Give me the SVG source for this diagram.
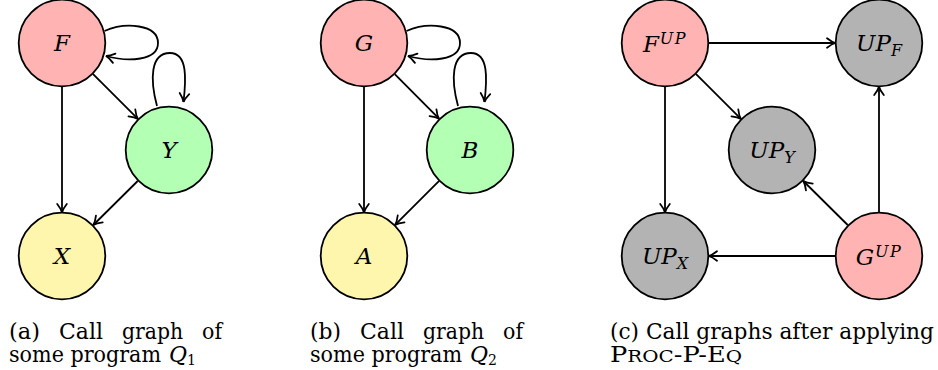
<svg xmlns="http://www.w3.org/2000/svg" width="938" height="370" viewBox="0 0 938 370">
<defs>
<marker id="arr" markerUnits="userSpaceOnUse" markerWidth="20" markerHeight="20" refX="0" refY="0" orient="auto" overflow="visible">
<path d="M -8.5,-4.8 C -5,-2 -2,-0.5 0,0 C -2,0.5 -5,2 -8.5,4.8" fill="none" stroke="#000" stroke-width="1.8" stroke-linecap="round"/>
</marker>
</defs>
<style>
.n{stroke:#000;stroke-width:1.8}
.red{fill:#FFB3B3}
.grn{fill:#B3FFB3}
.yel{fill:#FFF6AD}
.gry{fill:#B3B3B3}
text{font-family:'DejaVu Serif',serif;fill:#000}
.lbl{font-style:italic;font-size:23px;text-anchor:middle}
.sm{font-size:16px}
.cap{font-size:22px}
.e{fill:none;stroke:#000;stroke-width:1.8;marker-end:url(#arr)}
</style>
<rect width="938" height="370" fill="#fff"/>

<g id="connectors">
<path class="e" d="M 62,86.5 L 62,212.5"/>
<path class="e" d="M 93.1,74.1 L 137.9,118.9"/>
<path class="e" d="M 137.7,181 L 93.3,225"/>
<path class="e" d="M 104.5,31 C 125,22 158,24 158,43 C 158,61 128,62 106,56"/>
<path class="e" d="M 157,106 C 150,80 150,53 170,53 C 188,53 186,80 183.5,102"/>
<path class="e" d="M 364,86.5 L 364,212.5"/>
<path class="e" d="M 395,74.3 L 439,118.7"/>
<path class="e" d="M 438.9,181.1 L 395.1,224.9"/>
<path class="e" d="M 406.5,31 C 427,22 460,24 460,43 C 460,61 430,62 408,56"/>
<path class="e" d="M 458,106 C 451,80 451,53 471,53 C 489,53 487,80 484.5,102"/>
<path class="e" d="M 708.5,43 L 835.5,43"/>
<path class="e" d="M 696.1,74.1 L 740.9,118.9"/>
<path class="e" d="M 665,86.5 L 665,212.5"/>
<path class="e" d="M 879,212.5 L 879,86.5"/>
<path class="e" d="M 847.7,225 L 803.3,181"/>
<path class="e" d="M 835.5,256 L 708.5,256"/>
</g>

<g id="F"><circle class="n red" cx="62" cy="43" r="43.3"/><text class="lbl" x="62" y="51">F</text></g>
<g id="Y"><circle class="n grn" cx="169" cy="150" r="43.3"/><text class="lbl" x="169" y="158">Y</text></g>
<g id="X"><circle class="n yel" cx="62" cy="256" r="43.3"/><text class="lbl" x="62" y="264">X</text></g>

<g id="G"><circle class="n red" cx="364" cy="43" r="43.3"/><text class="lbl" x="364" y="51">G</text></g>
<g id="B"><circle class="n grn" cx="470" cy="150" r="43.3"/><text class="lbl" x="470" y="158">B</text></g>
<g id="A"><circle class="n yel" cx="364" cy="256" r="43.3"/><text class="lbl" x="364" y="264">A</text></g>

<g id="FUP"><circle class="n red" cx="665" cy="43" r="43.3"/><text class="lbl" x="665" y="52">F<tspan font-size="16" dy="-8.5" dx="1" letter-spacing="1.5">UP</tspan></text></g>
<g id="UPF"><circle class="n gry" cx="879" cy="43" r="43.3"/><text class="lbl" x="879" y="51">UP<tspan class="sm" dy="5">F</tspan></text></g>
<g id="UPY"><circle class="n gry" cx="772" cy="150" r="43.3"/><text class="lbl" x="772" y="158">UP<tspan class="sm" dy="5">Y</tspan></text></g>
<g id="UPX"><circle class="n gry" cx="665" cy="256" r="43.3"/><text class="lbl" x="665" y="264">UP<tspan class="sm" dy="5">X</tspan></text></g>
<g id="GUP"><circle class="n red" cx="879" cy="256" r="43.3"/><text class="lbl" x="879" y="265">G<tspan font-size="16" dy="-8.5" dx="1" letter-spacing="1.5">UP</tspan></text></g>

<g id="captions">
<text class="cap" x="9" y="339" textLength="31" lengthAdjust="spacingAndGlyphs">(a)</text>
<text class="cap" x="59" y="339" textLength="44" lengthAdjust="spacingAndGlyphs">Call</text>
<text class="cap" x="122" y="339" textLength="61" lengthAdjust="spacingAndGlyphs">graph</text>
<text class="cap" x="202" y="339" textLength="20" lengthAdjust="spacingAndGlyphs">of</text>
<text class="cap" x="9" y="362" textLength="152" lengthAdjust="spacingAndGlyphs">some program</text>
<text class="cap" x="169" y="362"><tspan font-style="italic">Q</tspan><tspan font-size="14" dy="3">1</tspan></text>

<text class="cap" x="310" y="339" textLength="31" lengthAdjust="spacingAndGlyphs">(b)</text>
<text class="cap" x="360" y="339" textLength="44" lengthAdjust="spacingAndGlyphs">Call</text>
<text class="cap" x="423" y="339" textLength="61" lengthAdjust="spacingAndGlyphs">graph</text>
<text class="cap" x="503" y="339" textLength="20" lengthAdjust="spacingAndGlyphs">of</text>
<text class="cap" x="310" y="362" textLength="152" lengthAdjust="spacingAndGlyphs">some program</text>
<text class="cap" x="470" y="362"><tspan font-style="italic">Q</tspan><tspan font-size="14" dy="3">2</tspan></text>

<text class="cap" x="610" y="339" textLength="324" lengthAdjust="spacingAndGlyphs">(c) Call graphs after applying</text>
<text class="cap" x="610" y="362" textLength="132" lengthAdjust="spacingAndGlyphs">P<tspan font-size="17">ROC</tspan>-P-E<tspan font-size="17">Q</tspan></text>
</g>
</svg>
